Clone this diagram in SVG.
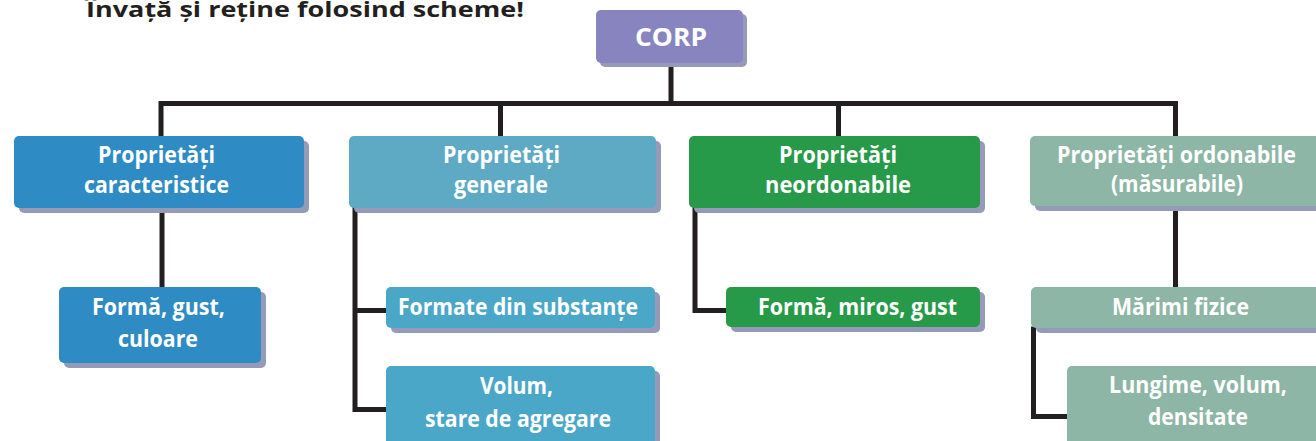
<svg xmlns="http://www.w3.org/2000/svg" width="1316" height="441" viewBox="0 0 1316 441">
<style>
.t{font-family:"Open Sans","Liberation Sans",sans-serif;font-weight:bold;fill:#fff;font-size:23px;text-anchor:middle}
.title{font-family:"Open Sans","Liberation Sans",sans-serif;font-weight:bold;fill:#231f20;font-size:21px}
.sh{fill:#959ab9}
.ln{fill:none;stroke:#231f20;stroke-width:5;stroke-linecap:square;stroke-linejoin:miter}
.c0{fill:#8884bf}.c1{fill:#2e8bc3}.c2{fill:#5eaac5}.c2b{fill:#4ba7c7}.c3{fill:#279a49}.c4{fill:#8db6a6}
</style>
<rect width="1316" height="441" fill="#fff"/>
<text class="title" x="86" y="17" textLength="438" lengthAdjust="spacingAndGlyphs">Învață și reține folosind scheme!</text>
<g id="connectors">
<path class="ln" d="M671 63V103.5M161 103.5H1175.5M161 103.5V137M500.5 103.5V137M838.5 103.5V137M1175.5 103.5V137"/>
<path class="ln" d="M162 208V287"/>
<path class="ln" d="M355 208V409.5H386M355 310.5H386"/>
<path class="ln" d="M695 208V310.5H726"/>
<path class="ln" d="M1175.5 206V287"/>
<path class="ln" d="M1033.5 329V416.5H1067"/>
</g>
<g id="corp">
<rect class="sh" x="600" y="14" width="147" height="53" rx="5"/>
<rect class="c0" x="596" y="10" width="147" height="53" rx="5"/>
<text class="t" x="671" y="46" style="font-size:25px" textLength="72" lengthAdjust="spacingAndGlyphs">CORP</text>
</g>
<g id="prop-caracteristice">
<rect class="sh" x="19" y="141" width="290" height="72" rx="5"/>
<rect class="c1" x="14" y="136" width="290" height="72" rx="5"/>
<text class="t" x="156.5" y="163" textLength="117" lengthAdjust="spacingAndGlyphs">Proprietăți</text>
<text class="t" x="156.5" y="193" textLength="145" lengthAdjust="spacingAndGlyphs">caracteristice</text>
</g>
<g id="prop-generale">
<rect class="sh" x="354" y="141" width="307" height="72" rx="5"/>
<rect class="c2" x="349" y="136" width="307" height="72" rx="5"/>
<text class="t" x="501.5" y="163" textLength="117" lengthAdjust="spacingAndGlyphs">Proprietăți</text>
<text class="t" x="501" y="193" textLength="94" lengthAdjust="spacingAndGlyphs">generale</text>
</g>
<g id="prop-neordonabile">
<rect class="sh" x="694" y="141" width="291" height="72" rx="5"/>
<rect class="c3" x="689" y="136" width="291" height="72" rx="5"/>
<text class="t" x="838" y="163" textLength="118" lengthAdjust="spacingAndGlyphs">Proprietăți</text>
<text class="t" x="838" y="193" textLength="146" lengthAdjust="spacingAndGlyphs">neordonabile</text>
</g>
<g id="prop-ordonabile">
<rect class="sh" x="1035" y="141" width="300" height="70" rx="5"/>
<rect class="c4" x="1030" y="136" width="300" height="70" rx="5"/>
<text class="t" x="1176.5" y="163" textLength="239" lengthAdjust="spacingAndGlyphs">Proprietăți ordonabile</text>
<text class="t" x="1177" y="192" textLength="132" lengthAdjust="spacingAndGlyphs">(măsurabile)</text>
</g>
<g id="forma-gust-culoare">
<rect class="sh" x="64" y="292" width="202" height="76" rx="5"/>
<rect class="c1" x="59" y="287" width="202" height="76" rx="5"/>
<text class="t" x="158.5" y="315" textLength="133" lengthAdjust="spacingAndGlyphs">Formă, gust,</text>
<text class="t" x="158" y="347" textLength="80" lengthAdjust="spacingAndGlyphs">culoare</text>
</g>
<g id="formate-din-substante">
<rect class="sh" x="391" y="292" width="269" height="41" rx="5"/>
<rect class="c2b" x="386" y="287" width="269" height="41" rx="5"/>
<text class="t" x="518" y="315" textLength="240" lengthAdjust="spacingAndGlyphs">Formate din substanțe</text>
</g>
<g id="volum-stare">
<rect class="sh" x="391" y="371" width="269" height="90" rx="5"/>
<rect class="c2b" x="386" y="366" width="269" height="90" rx="5"/>
<text class="t" x="516.5" y="394" textLength="73" lengthAdjust="spacingAndGlyphs">Volum,</text>
<text class="t" x="518" y="427" textLength="186" lengthAdjust="spacingAndGlyphs">stare de agregare</text>
</g>
<g id="forma-miros-gust">
<rect class="sh" x="731" y="292" width="254" height="40" rx="5"/>
<rect class="c3" x="726" y="287" width="254" height="40" rx="5"/>
<text class="t" x="857.5" y="315" textLength="199" lengthAdjust="spacingAndGlyphs">Formă, miros, gust</text>
</g>
<g id="marimi-fizice">
<rect class="sh" x="1036" y="292" width="300" height="41" rx="5"/>
<rect class="c4" x="1031" y="287" width="300" height="41" rx="5"/>
<text class="t" x="1180.5" y="315" textLength="137" lengthAdjust="spacingAndGlyphs">Mărimi fizice</text>
</g>
<g id="lungime-volum-densitate">
<rect class="sh" x="1072" y="371" width="270" height="90" rx="5"/>
<rect class="c4" x="1067" y="366" width="270" height="90" rx="5"/>
<text class="t" x="1198" y="393" textLength="178" lengthAdjust="spacingAndGlyphs">Lungime, volum,</text>
<text class="t" x="1198" y="425" textLength="100" lengthAdjust="spacingAndGlyphs">densitate</text>
</g>
</svg>
